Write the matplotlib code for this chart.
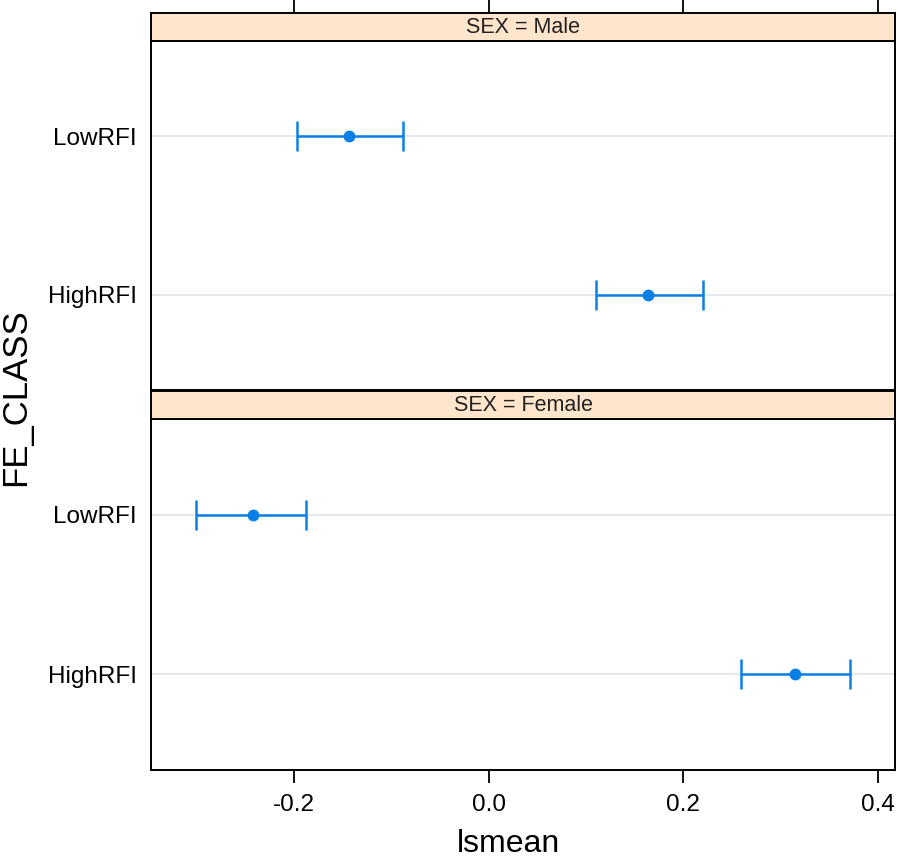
import matplotlib
matplotlib.use("Agg")
import matplotlib.pyplot as plt
import numpy as np

plt.rcParams['font.family'] = ['Liberation Sans', 'DejaVu Sans']

# lsmeans by FE_CLASS within each SEX, with lower / upper limits
levels = ['HighRFI', 'LowRFI']
panels = ['Male', 'Female']
mean = {'Male': [0.164, -0.143], 'Female': [0.315, -0.242]}
lower = {'Male': [0.110, -0.197], 'Female': [0.259, -0.300]}
upper = {'Male': [0.220, -0.088], 'Female': [0.371, -0.187]}
xticks = [-0.2, 0.0, 0.2, 0.4]
xticklabels = ['-0.2', '0.0', '0.2', '0.4']

W, H = 898, 861
fig = plt.figure(figsize=(W / 100, H / 100), dpi=100)

def box(x0, y0, x1, y1):
    # pixel box (top-left origin) -> figure fraction
    return [x0 / W, 1 - y1 / H, (x1 - x0) / W, (y1 - y0) / H]

blue = '#0a80e6'
strip_color = '#ffe5cc'
layout = {'Male': (13, 41, 390), 'Female': (391, 419, 770)}

for i, sex in enumerate(panels):
    s_top, p_top, p_bot = layout[sex]
    ax = fig.add_axes(box(151, p_top, 895, p_bot))
    sx = fig.add_axes(box(151, s_top, 895, p_top))

    ypos = np.arange(1, len(levels) + 1)
    for y in ypos:
        ax.axhline(y, color='#e3e6ea', lw=1.3, zorder=0)
    m = np.array(mean[sex])
    err = [m - np.array(lower[sex]), np.array(upper[sex]) - m]
    ax.errorbar(m, ypos, xerr=err, fmt='o', color=blue, ms=7.5,
                capsize=10.5, elinewidth=1.8, capthick=1.8)

    ax.set_xlim(-0.3467, 0.4174)
    ax.set_ylim(0.4, len(levels) + 0.6)
    ax.set_yticks(ypos)
    ax.set_yticklabels(levels, fontsize=17.5)
    ax.tick_params(axis='y', length=0, pad=10)
    ax.set_xticks(xticks)
    if i == 0:
        ax.tick_params(axis='x', bottom=False, labelbottom=False)
        sx.set_xlim(ax.get_xlim())
        sx.set_xticks(xticks)
        sx.tick_params(axis='x', top=True, bottom=False, labelbottom=False,
                       length=9.5, width=1.3, direction='out')
    else:
        ax.set_xticklabels(xticklabels, fontsize=17.5)
        ax.tick_params(axis='x', length=9.5, width=1.3, pad=8)
        sx.set_xticks([])
    for sp in ax.spines.values():
        sp.set_linewidth(1.4)

    sx.set_facecolor(strip_color)
    sx.set_yticks([])
    for sp in sx.spines.values():
        sp.set_linewidth(1.4)
    sx.text(0.5, 0.47, 'SEX = ' + sex, transform=sx.transAxes,
            ha='center', va='center', fontsize=15.5, color='#222222')

fig.text(16 / W, 1 - 397 / H, 'FE_CLASS', rotation=90, ha='center',
         va='center', fontsize=25)
fig.text(508 / W, 1 - 852 / H, 'lsmean', ha='center', va='baseline', fontsize=23)

fig.savefig('out.png', dpi=100)
